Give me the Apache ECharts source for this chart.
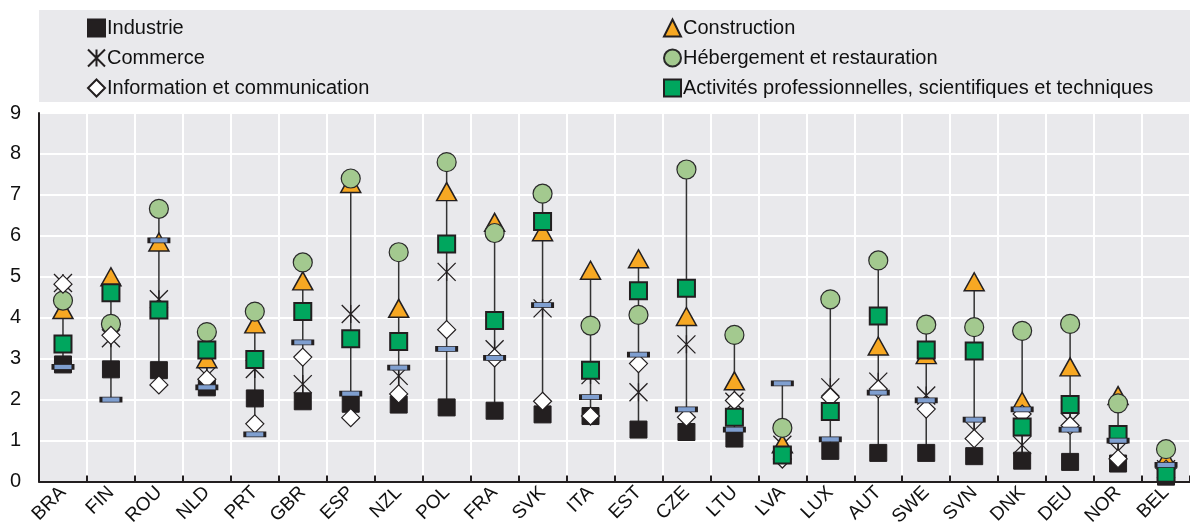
<!DOCTYPE html>
<html>
<head>
<meta charset="utf-8">
<script src="https://cdn.jsdelivr.net/npm/echarts@6/dist/echarts.min.js"></script>
<style>
html,body{margin:0;padding:0;background:#fff;}
#c{width:1190px;height:529px;}
</style>
</head>
<body>
<div id="c"></div>
<script>
const categories = ["BRA","FIN","ROU","NLD","PRT","GBR","ESP","NZL","POL","FRA","SVK","ITA","EST","CZE","LTU","LVA","LUX","AUT","SWE","SVN","DNK","DEU","NOR","BEL"];
const industrie = [2.86,2.74,2.72,2.3,2.03,1.96,1.9,1.88,1.81,1.73,1.64,1.6,1.27,1.21,1.05,0.65,0.75,0.7,0.7,0.62,0.51,0.48,0.44,0.12];
const commerce = [4.85,3.5,4.45,2.58,2.75,2.38,4.09,2.58,5.12,3.23,4.23,2.6,2.18,3.35,1.95,0.9,2.3,2.44,2.1,1.25,0.89,1.45,0.75,0.3];
const construction = [4.2,5.0,5.85,3.0,3.85,4.9,7.28,4.23,7.08,6.33,6.1,5.16,5.44,4.03,2.46,0.92,null,3.31,3.1,4.88,1.96,2.8,2.1,0.55];
const hebergement = [4.42,3.85,6.66,3.65,4.15,5.35,7.4,5.6,7.8,6.07,7.03,3.81,4.07,7.62,3.58,1.31,4.45,5.4,3.83,3.77,3.68,3.85,1.91,0.79];
const information = [4.82,3.57,2.36,2.5,1.41,3.04,1.56,2.14,3.71,3.02,1.96,1.6,2.88,1.57,1.98,0.55,2.06,2.26,1.77,1.05,1.65,1.37,0.56,0.3];
const professionnelles = [3.36,4.61,4.19,3.21,2.98,4.15,3.49,3.42,5.8,3.93,6.35,2.72,4.66,4.72,1.57,0.65,1.71,4.04,3.21,3.19,1.33,1.88,1.15,0.2];
const total = [2.8,2.0,5.89,2.3,1.15,3.4,2.15,2.78,3.24,3.02,4.31,2.06,3.1,1.76,1.27,2.4,1.03,2.17,1.98,1.51,1.76,1.27,1.0,0.41];
const yTicks = [0,1,2,3,4,5,6,7,8,9];

const allSeries = [industrie, commerce, construction, hebergement, information, professionnelles, total];
const ranges = categories.map((c, i) => {
  const vals = allSeries.map(s => s[i]).filter(v => v !== null && v !== undefined);
  return [i, Math.min(...vals), Math.max(...vals)];
});

const FONT = "'Liberation Sans Narrow','Arial Narrow','Liberation Sans',Arial,sans-serif";
const DARK = '#231f20';
const chart = echarts.init(document.getElementById('c'), null, {renderer: 'canvas'});

function sc(name, data, symbol, size, itemStyle, z) {
  itemStyle.opacity = 1;
  return {
    name: name, type: 'scatter', data: data, symbol: symbol, symbolSize: size,
    itemStyle: itemStyle, z: z, emphasis: {disabled: true}, animation: false
  };
}

const legendText = {fontFamily: FONT, fontSize: 20, color: '#111', padding: [0, 0, 0, -3]};
const option = {
  animation: false,
  graphic: [{
    type: 'rect', left: 39, top: 10, shape: {width: 1160, height: 92},
    style: {fill: '#e9e9ec'}, z: -10, silent: true
  }],
  legend: [{
    data: ['Industrie', 'Commerce', 'Information et communication'],
    orient: 'vertical', left: 82, top: 13, itemGap: 10, itemWidth: 17, itemHeight: 17,
    textStyle: legendText, selectedMode: false
  }, {
    data: ['Construction', 'Hébergement et restauration', 'Activités professionnelles, scientifiques et techniques'],
    orient: 'vertical', left: 658, top: 13, itemGap: 10, itemWidth: 17, itemHeight: 17,
    textStyle: legendText, selectedMode: false
  }],
  grid: {
    left: 39, right: -6, top: 113, bottom: 44,
    show: true, backgroundColor: '#e9e9ec', borderWidth: 0
  },
  xAxis: {
    type: 'category', data: categories, boundaryGap: true,
    axisLine: {lineStyle: {color: DARK, width: 2}},
    axisTick: {show: true, inside: true, length: 6, lineStyle: {color: DARK, width: 2}},
    splitLine: {show: true, lineStyle: {color: '#ffffff', width: 2}},
    axisLabel: {rotate: 45, fontFamily: FONT, fontSize: 19, color: '#111', margin: 8, interval: 0}
  },
  yAxis: {
    type: 'value', min: 0, max: 9, interval: 1,
    axisLine: {show: true, lineStyle: {color: DARK, width: 2}},
    axisTick: {show: false},
    splitLine: {show: true, lineStyle: {color: '#ffffff', width: 2}},
    axisLabel: {fontFamily: FONT, fontSize: 20, color: '#111', margin: 18,
      formatter: v => yTicks.includes(v) ? String(v) : ''}
  },
  series: [
    {
      type: 'custom', name: 'range', data: ranges, z: 1, silent: true,
      renderItem: function (params, api) {
        const p1 = api.coord([api.value(0), api.value(1)]);
        const p2 = api.coord([api.value(0), api.value(2)]);
        return {type: 'line', shape: {x1: p1[0], y1: p1[1], x2: p2[0], y2: p2[1]},
          style: {stroke: '#333', lineWidth: 1.5}};
      }
    },
    sc('Industrie', industrie, 'rect', 17, {color: DARK, borderColor: DARK, borderWidth: 1}, 2),
    sc('Commerce', commerce, 'path://M0,0L20,20M20,0L0,20M10,0L10,20', 18,
      {color: 'rgba(0,0,0,0)', borderColor: DARK, borderWidth: 1.3}, 3),
    sc('Construction', construction, 'triangle', [20, 18], {color: '#f7a823', borderColor: DARK, borderWidth: 1.5}, 4),
    sc('Hébergement et restauration', hebergement, 'circle', 19, {color: '#a3c98f', borderColor: '#2a2a2a', borderWidth: 1.2}, 5),
    sc('Information et communication', information, 'diamond', [18, 18], {color: '#ffffff', borderColor: DARK, borderWidth: 1.2}, 6),
    sc('Activités professionnelles, scientifiques et techniques', professionnelles, 'rect', 17,
      {color: '#00a65e', borderColor: DARK, borderWidth: 2}, 7),
    sc('Total', total, 'rect', [20, 5], {color: '#7f9fd0', borderColor: DARK, borderWidth: 1.5}, 8)
  ]
};
chart.setOption(option);
</script>
</body>
</html>
